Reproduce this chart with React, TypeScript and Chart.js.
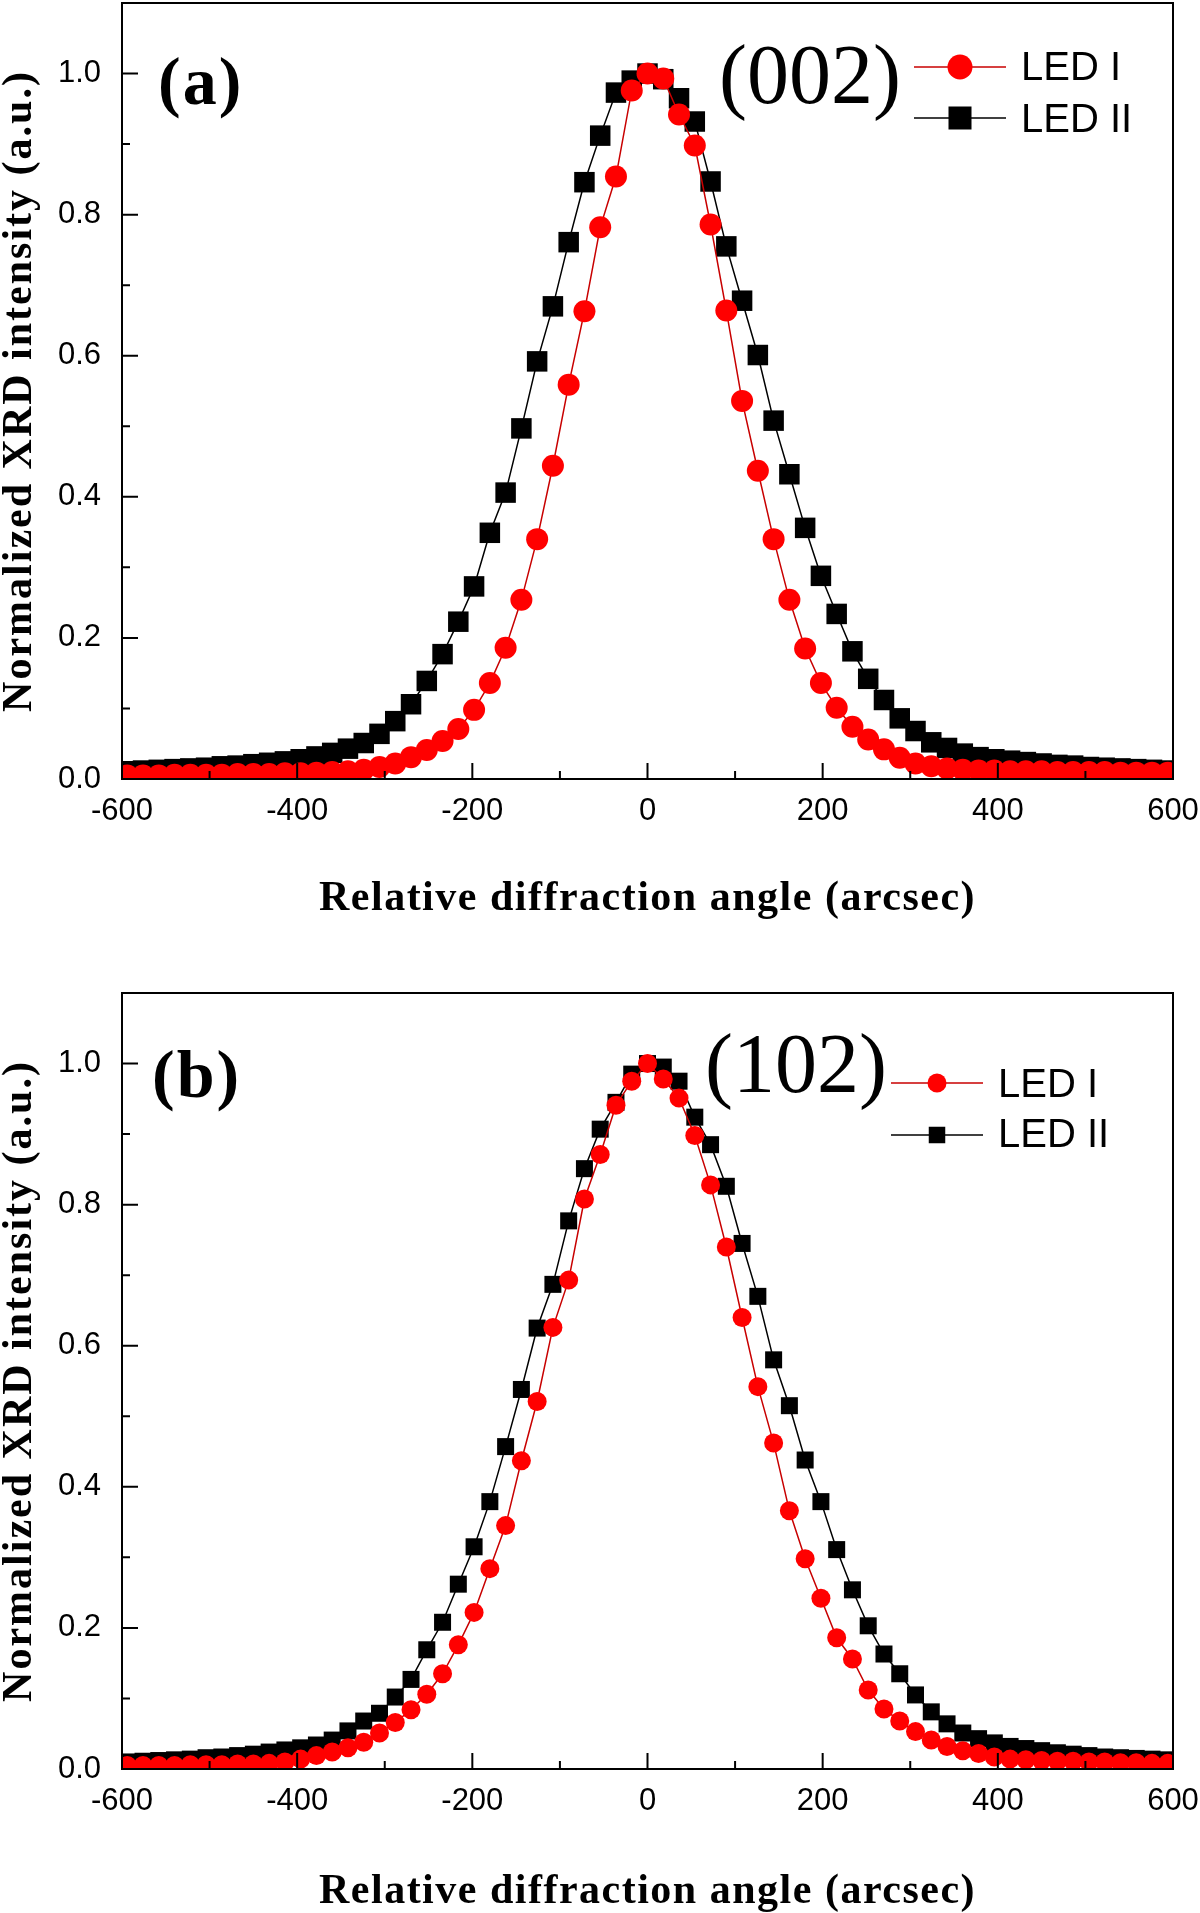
import React, { useEffect, useRef } from 'react';
import { Chart, registerables } from 'chart.js';

Chart.register(...registerables);

// ---------- data ----------
const angles = [
  -594, -576, -558, -540, -522, -504, -486, -468, -450, -432, -414, -396, -378, -360,
  -342, -324, -306, -288, -270, -252, -234, -216, -198, -180, -162, -144, -126, -108, -90, -72, -54, -36, -18,
  0,
  18, 36, 54, 72, 90, 108, 126, 144, 162, 180, 198, 216, 234, 252, 270, 288, 306, 324, 342, 360,
  378, 396, 414, 432, 450, 468, 486, 504, 522, 540, 558, 576, 594,
];

const ledI_002 = [
  0.005, 0.005, 0.005, 0.006, 0.006, 0.006, 0.006, 0.007, 0.007, 0.007, 0.008, 0.008, 0.009, 0.010,
  0.011, 0.013, 0.017, 0.022, 0.031, 0.041, 0.054, 0.071, 0.098, 0.136, 0.186, 0.254, 0.340, 0.444, 0.559, 0.663, 0.782, 0.854, 0.976,
  1.000,
  0.993, 0.942, 0.898, 0.786, 0.664, 0.536, 0.437, 0.340, 0.254, 0.185, 0.136, 0.101, 0.074, 0.056, 0.042, 0.030, 0.022, 0.018, 0.015, 0.013,
  0.012, 0.012, 0.011, 0.011, 0.011, 0.010, 0.010, 0.010, 0.010, 0.009, 0.009, 0.009, 0.009,
];

const ledII_002 = [
  0.011, 0.012, 0.013, 0.014, 0.015, 0.016, 0.018, 0.019, 0.021, 0.023, 0.025, 0.028, 0.032, 0.037,
  0.043, 0.051, 0.064, 0.082, 0.106, 0.139, 0.177, 0.223, 0.273, 0.349, 0.406, 0.497, 0.592, 0.670, 0.761, 0.846, 0.912, 0.973, 0.990,
  1.000,
  0.992, 0.965, 0.932, 0.847, 0.755, 0.678, 0.601, 0.508, 0.432, 0.356, 0.288, 0.234, 0.181, 0.142, 0.112, 0.086, 0.068, 0.052, 0.044, 0.036,
  0.031, 0.028, 0.026, 0.024, 0.022, 0.020, 0.019, 0.017, 0.016, 0.015, 0.014, 0.013, 0.012,
];

const ledI_102 = [
  0.005, 0.005, 0.005, 0.005, 0.006, 0.006, 0.006, 0.007, 0.007, 0.008, 0.010, 0.014, 0.019, 0.024,
  0.030, 0.038, 0.051, 0.066, 0.084, 0.106, 0.135, 0.176, 0.222, 0.284, 0.345, 0.437, 0.521, 0.626, 0.693, 0.808, 0.871, 0.941, 0.975,
  1.000,
  0.978, 0.951, 0.898, 0.828, 0.740, 0.640, 0.542, 0.462, 0.366, 0.298, 0.242, 0.186, 0.156, 0.112, 0.085, 0.068, 0.053, 0.041, 0.032, 0.026,
  0.022, 0.017, 0.014, 0.013, 0.012, 0.011, 0.011, 0.010, 0.010, 0.009, 0.009, 0.008, 0.008,
];

const ledII_102 = [
  0.010, 0.011, 0.012, 0.013, 0.014, 0.016, 0.017, 0.019, 0.021, 0.024, 0.027, 0.030, 0.034, 0.041,
  0.054, 0.068, 0.079, 0.102, 0.127, 0.169, 0.208, 0.262, 0.315, 0.379, 0.457, 0.538, 0.625, 0.687, 0.777, 0.851, 0.907, 0.945, 0.985,
  1.000,
  0.995, 0.975, 0.924, 0.885, 0.826, 0.745, 0.670, 0.580, 0.515, 0.438, 0.379, 0.311, 0.254, 0.203, 0.163, 0.135, 0.105, 0.081, 0.064, 0.051,
  0.043, 0.037, 0.032, 0.029, 0.026, 0.023, 0.021, 0.019, 0.017, 0.016, 0.015, 0.014, 0.013,
];

const xTickValues = [-600, -400, -200, 0, 200, 400, 600];
const xTickLabels = ['-600', '-400', '-200', '0', '200', '400', '600'];
const xMinorTicks = [-500, -300, -100, 100, 300, 500];
const yTickValues = [0, 0.2, 0.4, 0.6, 0.8, 1.0];
const yTickLabels = ['0.0', '0.2', '0.4', '0.6', '0.8', '1.0'];
const yMinorTicks = [0.1, 0.3, 0.5, 0.7, 0.9];
const seriesNames = ['LED I', 'LED II'];
const panelLabels = ['(a)', '(b)'];
const planeLabels = ['(002)', '(102)'];
const xTitle = 'Relative diffraction angle (arcsec)';
const yTitle = 'Normalized XRD intensity (a.u.)';

// ---------- styles / layout ----------
const SANS = '"Liberation Sans", Arial, sans-serif';
const SERIF = '"Liberation Serif", "Times New Roman", serif';
const RED_LINE = '#c80000';
const RED = '#ff0000';

type PanelCfg = {
  canvasH: number;
  top: number;
  red: number[];
  black: number[];
  label: string;
  plane: string;
  circleR: number;
  squareSide: number;
  labelX: number;
  labelY: number;
  planeX: number;
  planeY: number;
  lg: { x1: number; x2: number; mx: number; y1: number; y2: number; tx: number; ty1: number; ty2: number; r: number; side: number };
  xTitleY: number;
};

const PANELS: PanelCfg[] = [
  {
    canvasH: 990, top: 0, red: ledI_002, black: ledII_002, label: panelLabels[0], plane: planeLabels[0],
    circleR: 11, squareSide: 20.5, labelX: 158, labelY: 104, planeX: 719, planeY: 103,
    lg: { x1: 914, x2: 1006, mx: 960, y1: 67, y2: 118, tx: 1021, ty1: 80, ty2: 132, r: 12.5, side: 23 },
    xTitleY: 910,
  },
  {
    canvasH: 923, top: 990, red: ledI_102, black: ledII_102, label: panelLabels[1], plane: planeLabels[1],
    circleR: 9.5, squareSide: 17, labelX: 152, labelY: 107, planeX: 705, planeY: 102,
    lg: { x1: 891, x2: 983, mx: 937, y1: 93, y2: 145, tx: 998, ty1: 107, ty2: 157, r: 9.5, side: 16.5 },
    xTitleY: 913,
  },
];

function Panel({ cfg }: { cfg: PanelCfg }) {
  const ref = useRef<HTMLCanvasElement | null>(null);

  useEffect(() => {
    const canvas = ref.current;
    if (!canvas) return;

    const decor = {
      id: 'decor',
      afterDraw(chart: any) {
        const ctx: CanvasRenderingContext2D = chart.ctx;
        const a = chart.chartArea;
        const xs = chart.scales.x;
        const ys = chart.scales.y;
        ctx.save();
        // frame
        ctx.strokeStyle = '#000';
        ctx.lineWidth = 2;
        ctx.strokeRect(a.left, a.top, a.right - a.left, a.bottom - a.top);
        // inward ticks
        ctx.beginPath();
        xTickValues.forEach((v) => {
          const p = xs.getPixelForValue(v);
          ctx.moveTo(p, a.bottom);
          ctx.lineTo(p, a.bottom - 16);
        });
        xMinorTicks.forEach((v) => {
          const p = xs.getPixelForValue(v);
          ctx.moveTo(p, a.bottom);
          ctx.lineTo(p, a.bottom - 8);
        });
        yTickValues.forEach((v) => {
          const p = ys.getPixelForValue(v);
          ctx.moveTo(a.left, p);
          ctx.lineTo(a.left + 16, p);
        });
        yMinorTicks.forEach((v) => {
          const p = ys.getPixelForValue(v);
          ctx.moveTo(a.left, p);
          ctx.lineTo(a.left + 8, p);
        });
        ctx.stroke();

        ctx.fillStyle = '#000';
        // x title
        (ctx as any).letterSpacing = '1.5px';
        ctx.font = `bold 42px ${SERIF}`;
        ctx.textAlign = 'center';
        ctx.textBaseline = 'alphabetic';
        ctx.fillText(xTitle, (a.left + a.right) / 2, cfg.xTitleY);
        // y title
        (ctx as any).letterSpacing = '2px';
        ctx.save();
        ctx.translate(31, (a.top + a.bottom) / 2);
        ctx.rotate(-Math.PI / 2);
        ctx.fillText(yTitle, 0, 0);
        ctx.restore();

        // panel label
        (ctx as any).letterSpacing = '2px';
        ctx.textAlign = 'left';
        ctx.font = `bold 68px ${SERIF}`;
        ctx.fillText(cfg.label, cfg.labelX, cfg.labelY);
        (ctx as any).letterSpacing = '0px';
        ctx.font = `84px ${SERIF}`;
        ctx.fillText(cfg.plane, cfg.planeX, cfg.planeY);

        // legend
        const lg = cfg.lg;
        ctx.lineWidth = 1.5;
        ctx.strokeStyle = RED_LINE;
        ctx.beginPath();
        ctx.moveTo(lg.x1, lg.y1);
        ctx.lineTo(lg.x2, lg.y1);
        ctx.stroke();
        ctx.fillStyle = RED;
        ctx.beginPath();
        ctx.arc(lg.mx, lg.y1, lg.r, 0, Math.PI * 2);
        ctx.fill();
        ctx.strokeStyle = '#000';
        ctx.beginPath();
        ctx.moveTo(lg.x1, lg.y2);
        ctx.lineTo(lg.x2, lg.y2);
        ctx.stroke();
        ctx.fillStyle = '#000';
        ctx.fillRect(lg.mx - lg.side / 2, lg.y2 - lg.side / 2, lg.side, lg.side);
        ctx.font = `40px ${SANS}`;
        ctx.fillText(seriesNames[0], lg.tx, lg.ty1);
        ctx.fillText(seriesNames[1], lg.tx, lg.ty2);
        ctx.restore();
      },
    };

    const tickFont = { family: SANS, size: 31 };
    const chart = new Chart(canvas, {
      type: 'line',
      data: {
        datasets: [
          {
            label: seriesNames[0],
            data: angles.map((x, i) => ({ x, y: cfg.red[i] })),
            borderColor: RED_LINE,
            borderWidth: 1.5,
            pointStyle: 'circle',
            pointRadius: cfg.circleR,
            pointHoverRadius: cfg.circleR,
            pointBackgroundColor: RED,
            pointBorderWidth: 0,
            tension: 0,
            clip: 0,
          },
          {
            label: seriesNames[1],
            data: angles.map((x, i) => ({ x, y: cfg.black[i] })),
            borderColor: '#000',
            borderWidth: 1.5,
            pointStyle: 'rect',
            pointRadius: cfg.squareSide / Math.SQRT2,
            pointHoverRadius: cfg.squareSide / Math.SQRT2,
            pointBackgroundColor: '#000',
            pointBorderWidth: 0,
            tension: 0,
            clip: 0,
          },
        ],
      },
      options: {
        animation: false,
        responsive: false,
        devicePixelRatio: 1,
        events: [],
        layout: { autoPadding: false, padding: { top: 3, right: 27, left: 0, bottom: 0 } },
        plugins: { legend: { display: false }, tooltip: { enabled: false } },
        scales: {
          x: {
            type: 'linear',
            min: -600,
            max: 600,
            grid: { display: false, drawTicks: false },
            border: { display: false },
            ticks: {
              font: tickFont,
              color: '#000',
              padding: 14,
              maxRotation: 0,
              autoSkip: false,
              callback: (v: any) => {
                const i = xTickValues.indexOf(Number(v));
                return i >= 0 ? xTickLabels[i] : '';
              },
            },
            afterBuildTicks: (s: any) => {
              s.ticks = xTickValues.map((value) => ({ value }));
            },
            afterFit: (s: any) => {
              s.height = cfg.canvasH - 779;
              s.paddingLeft = 0;
              s.paddingRight = 0;
            },
          },
          y: {
            type: 'linear',
            min: 0,
            max: 1.1,
            grid: { display: false, drawTicks: false },
            border: { display: false },
            ticks: {
              font: tickFont,
              color: '#000',
              padding: 21,
              autoSkip: false,
              callback: (v: any) => {
                const i = yTickValues.findIndex((t) => Math.abs(t - Number(v)) < 1e-9);
                return i >= 0 ? yTickLabels[i] : '';
              },
            },
            afterBuildTicks: (s: any) => {
              s.ticks = yTickValues.map((value) => ({ value }));
            },
            afterFit: (s: any) => {
              s.width = 122;
              s.paddingTop = 0;
              s.paddingBottom = 0;
            },
          },
        },
      } as any,
      plugins: [decor],
    });

    return () => chart.destroy();
  }, [cfg]);

  return (
    <canvas
      ref={ref}
      width={1200}
      height={cfg.canvasH}
      style={{ position: 'absolute', left: 0, top: cfg.top, width: 1200, height: cfg.canvasH }}
    />
  );
}

export default function App() {
  return (
    <div style={{ position: 'absolute', left: 0, top: 0, width: 1200, height: 1913, background: '#fff', overflow: 'hidden' }}>
      {PANELS.map((p, i) => (
        <Panel key={i} cfg={p} />
      ))}
    </div>
  );
}
